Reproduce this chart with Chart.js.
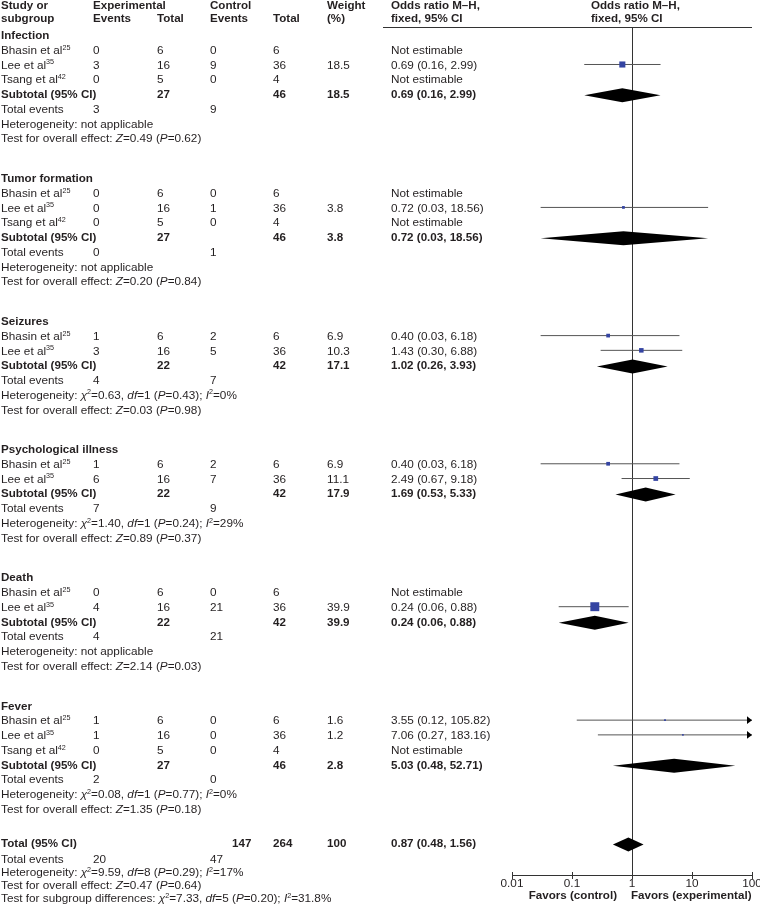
<!DOCTYPE html>
<html><head><meta charset="utf-8">
<script src="https://cdn.jsdelivr.net/npm/chart.js@4.4.1/dist/chart.umd.min.js"></script>
<style>html,body{margin:0;padding:0;background:#fff}canvas{display:block}</style>
</head><body>
<canvas id="c" width="760" height="912" style="width:760px;height:912px"></canvas>
<script>
// ---------------- DATA ----------------
const groups = ['Infection', 'Tumor formation', 'Seizures', 'Psychological illness', 'Death', 'Fever'];
const studyGroup = [0,0,0, 1,1,1, 2,2, 3,3, 4,4, 5,5,5];
const studyNames = ['Bhasin et al^{25}','Lee et al^{35}','Tsang et al^{42}',
  'Bhasin et al^{25}','Lee et al^{35}','Tsang et al^{42}',
  'Bhasin et al^{25}','Lee et al^{35}',
  'Bhasin et al^{25}','Lee et al^{35}',
  'Bhasin et al^{25}','Lee et al^{35}',
  'Bhasin et al^{25}','Lee et al^{35}','Tsang et al^{42}'];
const expEvents  = [0,3,0, 0,0,0, 1,3, 1,6, 0,4, 1,1,0];
const expTotal   = [6,16,5, 6,16,5, 6,16, 6,16, 6,16, 6,16,5];
const ctrlEvents = [0,9,0, 0,1,0, 2,5, 2,7, 0,21, 0,0,0];
const ctrlTotal  = [6,36,4, 6,36,4, 6,36, 6,36, 6,36, 6,36,4];
const weights    = [null,18.5,null, null,3.8,null, 6.9,10.3, 6.9,11.1, null,39.9, 1.6,1.2,null];
const orEst      = [null,0.69,null, null,0.72,null, 0.40,1.43, 0.40,2.49, null,0.24, 3.55,7.06,null];
const orLow      = [null,0.16,null, null,0.03,null, 0.03,0.30, 0.03,0.67, null,0.06, 0.12,0.27,null];
const orHigh     = [null,2.99,null, null,18.56,null, 6.18,6.88, 6.18,9.18, null,0.88, 105.82,183.16,null];

const subExpTotal   = [27,27,22,22,22,27];
const subCtrlTotal  = [46,46,42,42,42,46];
const subWeight     = [18.5,3.8,17.1,17.9,39.9,2.8];
const subEst        = [0.69,0.72,1.02,1.69,0.24,5.03];
const subLow        = [0.16,0.03,0.26,0.53,0.06,0.48];
const subHigh       = [2.99,18.56,3.93,5.33,0.88,52.71];
const subExpEvents  = [3,0,4,7,4,2];
const subCtrlEvents = [9,1,7,9,21,0];
const subHeterogeneity = ['not applicable','not applicable',
  '_χ_^2=0.63, _df_=1 (_P_=0.43); _I_^2=0%',
  '_χ_^2=1.40, _df_=1 (_P_=0.24); _I_^2=29%',
  'not applicable',
  '_χ_^2=0.08, _df_=1 (_P_=0.77); _I_^2=0%'];
const subZ = ['0.49','0.20','0.03','0.89','2.14','1.35'];
const subP = ['0.62','0.84','0.98','0.37','0.03','0.18'];

const totalExpTotal = 147, totalCtrlTotal = 264, totalWeight = 100;
const totalEst = 0.87, totalLow = 0.48, totalHigh = 1.56;
const totalExpEvents = 20, totalCtrlEvents = 47;
const totalHeterogeneity = '_χ_^2=9.59, _df_=8 (_P_=0.29); _I_^2=17%';
const totalZ = '0.47', totalP = '0.64';
const subgroupDiff = '_χ_^2=7.33, _df_=5 (_P_=0.20); _I_^2=31.8%';

const tickValues = [0.01, 0.1, 1, 10, 100];
const tickLabels = ['0.01', '0.1', '1', '10', '100'];
const favorsLeft = 'Favors (control)';
const favorsRight = 'Favors (experimental)';

// ---------------- LAYOUT ----------------
const FONT = '"Liberation Sans", Arial, Helvetica, sans-serif';
const FS = 11.75, FSB = 11.6, SUPFS = 7.2;
const TXT = '#231f20';
const COL = {study:1, expEv:93, expTot:157, ctlEv:210, ctlTot:273, weight:327, orText:391, totExp:232};
const GAP = 2.69, GAP_TOTAL = 2.35;

// row layout (row units)
const rows = [];
let u = 0;
groups.forEach((g, gi) => {
  if (gi > 0) u += GAP;
  rows.push({type:'group', gi, u}); u += 1;
  studyGroup.forEach((sg, si) => { if (sg === gi) { rows.push({type:'study', si, u}); u += 1; } });
  rows.push({type:'subtotal', gi, u}); u += 1;
  rows.push({type:'events', gi, u}); u += 1;
  rows.push({type:'het', gi, u}); u += 1;
  rows.push({type:'test', gi, u});
});
const totalU = u + GAP_TOTAL;
rows.push({type:'total', u: totalU});
rows.push({type:'totalEvents', u: totalU + 1.02});
rows.push({type:'totalHet', u: totalU + 1.92});
rows.push({type:'totalTest', u: totalU + 2.82});
rows.push({type:'subDiff', u: totalU + 3.72});
const studyU = {};
const subU = {};
rows.forEach(r => { if (r.type === 'study') studyU[r.si] = r.u; if (r.type === 'subtotal') subU[r.gi] = r.u; });

const fmt2 = v => v.toFixed(2);
const orString = (e, l, h) => `${fmt2(e)} (${fmt2(l)}, ${fmt2(h)})`;

// datasets
const ciData = [];
const sqData = [];
const sqRadius = [];
studyNames.forEach((n, i) => {
  if (orEst[i] == null) return;
  ciData.push({x: orLow[i], y: studyU[i]}, {x: orHigh[i], y: studyU[i]}, {x: orHigh[i], y: null});
  sqData.push({x: orEst[i], y: studyU[i]});
  sqRadius.push(Math.sqrt(weights[i]));
});

// rich text
function parseRich(str) {
  const segs = []; let italic = false, buf = '', i = 0;
  const push = (t, sup) => { if (t) segs.push({t, italic, sup}); };
  while (i < str.length) {
    const c = str[i];
    if (c === '_') { push(buf, false); buf = ''; italic = !italic; i++; }
    else if (c === '^') {
      push(buf, false); buf = '';
      if (str[i+1] === '{') { const j = str.indexOf('}', i); push(str.slice(i+2, j), true); i = j + 1; }
      else { push(str[i+1], true); i += 2; }
    } else { buf += c; i++; }
  }
  push(buf, false);
  return segs;
}
function drawRich(ctx, str, x, yc, bold) {
  const segs = parseRich(String(str));
  const base = yc + 4.2;
  ctx.textBaseline = 'alphabetic';
  ctx.textAlign = 'left';
  ctx.fillStyle = TXT;
  let cx = x;
  segs.forEach(s => {
    const size = s.sup ? SUPFS : (bold ? FSB : FS);
    ctx.font = `${s.italic ? 'italic ' : ''}${bold ? 'bold ' : ''}${size}px ${FONT}`;
    ctx.fillText(s.t, cx, s.sup ? base - 4.3 : base);
    cx += ctx.measureText(s.t).width;
  });
  return cx;
}

const forestPlugin = {
  id: 'forest',
  beforeDatasetsDraw(chart) {
    const {ctx, chartArea, scales: {x}} = chart;
    const x1 = Math.round(x.getPixelForValue(1)) + 0.5;
    ctx.save();
    ctx.strokeStyle = '#333';
    ctx.lineWidth = 1;
    // header rule
    ctx.beginPath(); ctx.moveTo(383, chartArea.top + 0.5); ctx.lineTo(chartArea.right, chartArea.top + 0.5); ctx.stroke();
    // line of no effect
    ctx.beginPath(); ctx.moveTo(x1, chartArea.top); ctx.lineTo(x1, chartArea.bottom); ctx.stroke();
    // tick marks above axis
    tickValues.forEach(v => {
      const px = Math.round(x.getPixelForValue(v)) + 0.5;
      ctx.beginPath(); ctx.moveTo(px, chartArea.bottom - 3); ctx.lineTo(px, chartArea.bottom); ctx.stroke();
    });
    ctx.restore();
  },
  afterDatasetsDraw(chart) {
    const {ctx, chartArea, scales: {x, y}} = chart;
    ctx.save();
    // arrows for CIs beyond the axis
    studyNames.forEach((n, i) => {
      if (orHigh[i] != null && orHigh[i] > x.max) {
        const py = y.getPixelForValue(studyU[i]);
        const tip = chartArea.right;
        ctx.fillStyle = '#000';
        ctx.beginPath(); ctx.moveTo(tip, py); ctx.lineTo(tip - 5, py - 3.8); ctx.lineTo(tip - 5, py + 3.8); ctx.closePath(); ctx.fill();
      }
    });
    // diamonds
    const diamond = (e, l, h, uu) => {
      const py = y.getPixelForValue(uu) + 1.3;
      const pl = x.getPixelForValue(l), pe = x.getPixelForValue(e), ph = x.getPixelForValue(h);
      ctx.fillStyle = '#000';
      ctx.beginPath(); ctx.moveTo(pl, py); ctx.lineTo(pe, py - 7); ctx.lineTo(ph, py); ctx.lineTo(pe, py + 7); ctx.closePath(); ctx.fill();
    };
    groups.forEach((g, gi) => diamond(subEst[gi], subLow[gi], subHigh[gi], subU[gi]));
    diamond(totalEst, totalLow, totalHigh, totalU);
    ctx.restore();
  },
  afterDraw(chart) {
    const {ctx, scales: {x, y}} = chart;
    const Y = v => y.getPixelForValue(v);
    ctx.save();
    // headers
    const h1 = Y(-2.027), h2 = Y(-1.146);
    drawRich(ctx, 'Study or', COL.study, h1, true);
    drawRich(ctx, 'subgroup', COL.study, h2, true);
    drawRich(ctx, 'Experimental', COL.expEv, h1, true);
    drawRich(ctx, 'Events', COL.expEv, h2, true);
    drawRich(ctx, 'Total', COL.expTot, h2, true);
    drawRich(ctx, 'Control', COL.ctlEv, h1, true);
    drawRich(ctx, 'Events', COL.ctlEv, h2, true);
    drawRich(ctx, 'Total', COL.ctlTot, h2, true);
    drawRich(ctx, 'Weight', COL.weight, h1, true);
    drawRich(ctx, '(%)', COL.weight, h2, true);
    drawRich(ctx, 'Odds ratio M–H,', COL.orText, h1, true);
    drawRich(ctx, 'fixed, 95% CI', COL.orText, h2, true);
    drawRich(ctx, 'Odds ratio M–H,', 591, h1, true);
    drawRich(ctx, 'fixed, 95% CI', 591, h2, true);

    rows.forEach(r => {
      const yc = Y(r.u);
      switch (r.type) {
        case 'group': drawRich(ctx, groups[r.gi], COL.study, yc, true); break;
        case 'study': {
          const i = r.si;
          drawRich(ctx, studyNames[i], COL.study, yc, false);
          drawRich(ctx, expEvents[i], COL.expEv, yc, false);
          drawRich(ctx, expTotal[i], COL.expTot, yc, false);
          drawRich(ctx, ctrlEvents[i], COL.ctlEv, yc, false);
          drawRich(ctx, ctrlTotal[i], COL.ctlTot, yc, false);
          if (weights[i] != null) drawRich(ctx, weights[i].toFixed(1), COL.weight, yc, false);
          drawRich(ctx, orEst[i] == null ? 'Not estimable' : orString(orEst[i], orLow[i], orHigh[i]), COL.orText, yc, false);
          break;
        }
        case 'subtotal': {
          const gi = r.gi;
          drawRich(ctx, 'Subtotal (95% CI)', COL.study, yc, true);
          drawRich(ctx, subExpTotal[gi], COL.expTot, yc, true);
          drawRich(ctx, subCtrlTotal[gi], COL.ctlTot, yc, true);
          drawRich(ctx, subWeight[gi].toFixed(1), COL.weight, yc, true);
          drawRich(ctx, orString(subEst[gi], subLow[gi], subHigh[gi]), COL.orText, yc, true);
          break;
        }
        case 'events':
          drawRich(ctx, 'Total events', COL.study, yc, false);
          drawRich(ctx, subExpEvents[r.gi], COL.expEv, yc, false);
          drawRich(ctx, subCtrlEvents[r.gi], COL.ctlEv, yc, false);
          break;
        case 'het': drawRich(ctx, 'Heterogeneity: ' + subHeterogeneity[r.gi], COL.study, yc, false); break;
        case 'test': drawRich(ctx, `Test for overall effect: _Z_=${subZ[r.gi]} (_P_=${subP[r.gi]})`, COL.study, yc, false); break;
        case 'total':
          drawRich(ctx, 'Total (95% CI)', COL.study, yc, true);
          drawRich(ctx, totalExpTotal, COL.totExp, yc, true);
          drawRich(ctx, totalCtrlTotal, COL.ctlTot, yc, true);
          drawRich(ctx, totalWeight, COL.weight, yc, true);
          drawRich(ctx, orString(totalEst, totalLow, totalHigh), COL.orText, yc, true);
          break;
        case 'totalEvents':
          drawRich(ctx, 'Total events', COL.study, yc, false);
          drawRich(ctx, totalExpEvents, COL.expEv, yc, false);
          drawRich(ctx, totalCtrlEvents, COL.ctlEv, yc, false);
          break;
        case 'totalHet': drawRich(ctx, 'Heterogeneity: ' + totalHeterogeneity, COL.study, yc, false); break;
        case 'totalTest': drawRich(ctx, `Test for overall effect: _Z_=${totalZ} (_P_=${totalP})`, COL.study, yc, false); break;
        case 'subDiff': drawRich(ctx, 'Test for subgroup differences: ' + subgroupDiff, COL.study, yc, false); break;
      }
    });

    // favors labels
    const x1 = x.getPixelForValue(1);
    ctx.font = `bold ${FSB}px ${FONT}`;
    ctx.fillStyle = TXT;
    ctx.textBaseline = 'alphabetic';
    ctx.textAlign = 'right';
    ctx.fillText(favorsLeft, x1 - 15, 899);
    ctx.textAlign = 'left';
    ctx.fillText(favorsRight, x1 - 1, 899);
    ctx.restore();
  }
};

new Chart(document.getElementById('c'), {
  type: 'scatter',
  data: {
    datasets: [
      {
        label: 'Squares', data: sqData, order: 0,
        pointStyle: 'rect', pointRadius: sqRadius, pointHoverRadius: sqRadius,
        backgroundColor: '#3444a2', borderWidth: 0, showLine: false
      },
      {
        label: 'CI', data: ciData, order: 1, showLine: true, spanGaps: false,
        borderColor: '#555', borderWidth: 1, pointRadius: 0, pointHoverRadius: 0, fill: false
      }
    ]
  },
  options: {
    responsive: false, animation: false, devicePixelRatio: 1,
    layout: { padding: { left: 512, right: 8, top: 27, bottom: 0 } },
    plugins: { legend: { display: false }, tooltip: { enabled: false } },
    scales: {
      x: {
        type: 'logarithmic', min: 0.01, max: 100, position: 'bottom',
        afterBuildTicks: s => { s.ticks = tickValues.map(v => ({ value: v })); },
        afterFit: s => { s.height = 37; s.paddingLeft = 0; s.paddingRight = 0; },
        grid: { drawOnChartArea: false, drawTicks: true, tickLength: 4, color: '#333', lineWidth: 1 },
        border: { display: true, color: '#333', width: 1 },
        ticks: {
          callback: (v, i) => tickLabels[i], autoSkip: false, maxRotation: 0, padding: -2,
          color: TXT, font: { family: FONT, size: FS }
        }
      },
      y: { type: 'linear', reverse: true, min: -0.5424, max: 56.95, display: false }
    }
  },
  plugins: [forestPlugin]
});
</script>
</body></html>
